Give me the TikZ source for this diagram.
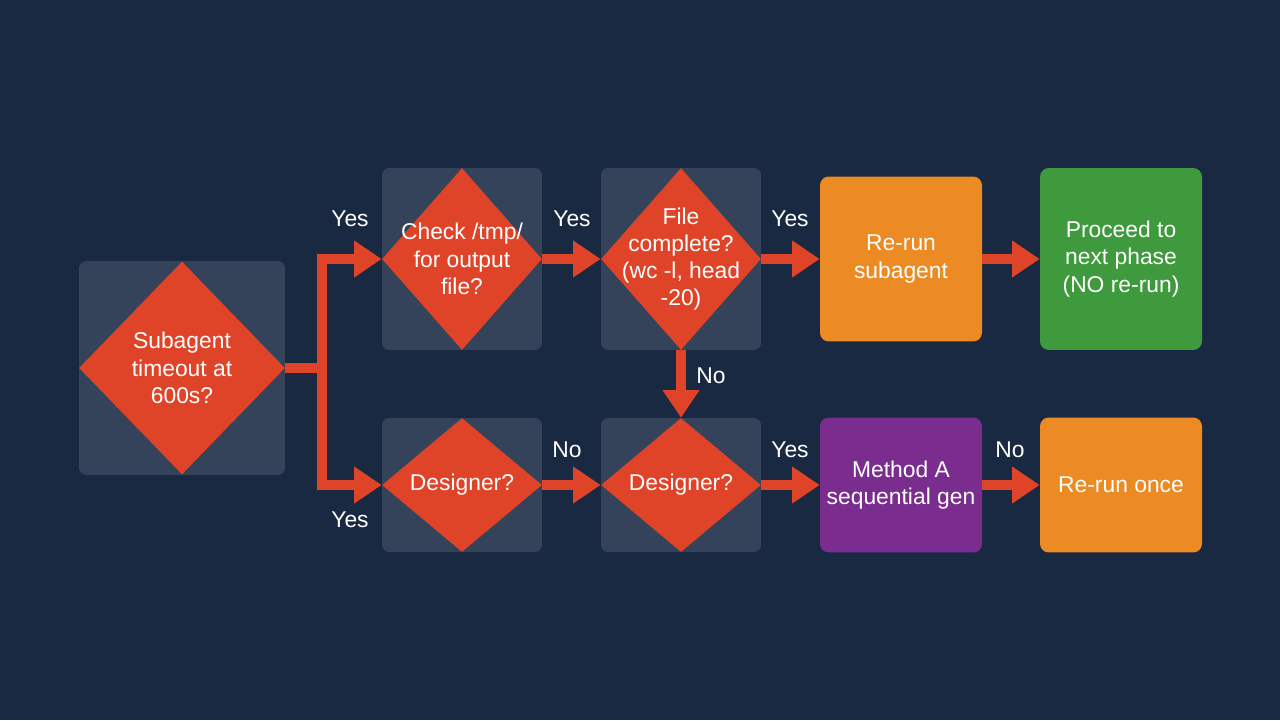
\documentclass[tikz,border=0pt]{standalone}
\usepackage{fontspec}
\setmainfont{Liberation Sans}
\usetikzlibrary{positioning,arrows.meta,shapes.geometric}
\definecolor{bgnavy}{HTML}{1A2942}
\definecolor{panel}{HTML}{34425A}
\definecolor{decred}{HTML}{E04428}
\definecolor{actorange}{HTML}{EC8A24}
\definecolor{actgreen}{HTML}{3E9A3C}
\definecolor{actpurple}{HTML}{7B2C8F}
\tikzset{
    panel/.style={fill=panel,rounded corners=4pt,minimum width=#1,minimum height=3.64cm,inner sep=0pt},
    decision/.style={diamond,fill=decred,inner sep=0pt,aspect=1,minimum width=3.2cm,minimum height=3.64cm},
    action/.style={fill=#1,rounded corners=5pt,minimum width=3.24cm,minimum height=2.7cm,inner sep=0pt,
        text=white,align=center,font=\fontsize{13}{15.5}\selectfont},
    txt/.style={text=white,align=center,font=\fontsize{13}{15.5}\selectfont},
    flow/.style={draw=decred,line width=5.5pt,-{Triangle[length=0.55cm,width=0.7cm]}},
    yesno/.style={text=white,font=\fontsize{13}{15.5}\selectfont},
}
\begin{document}
\begin{tikzpicture}[x=0.02cm,y=-0.02cm]
    \fill[bgnavy] (0,0) rectangle (1280,720);
    \useasboundingbox (0,0) rectangle (1280,720);
    % panels behind the decisions
    \node[panel=4.12cm,minimum height=4.28cm] at (182,368) {};
    \foreach \x/\y/\h in {462/259/3.64cm,681/259/3.64cm,462/485/2.68cm,681/485/2.68cm}
        \node[panel=3.2cm,minimum height=\h] at (\x,\y) {};
    % decisions
    \node[decision,minimum width=4.12cm,minimum height=4.26cm] (start) at (182,368) {};
    \node[txt] at (start) {Subagent\\timeout at\\600s?};
    \node[decision] (check) at (462,259) {};
    \node[txt] at (check) {Check /tmp/\\for output\\file?};
    \node[decision] (complete) at (681,259) {};
    \node[txt] at (complete) {File\\complete?\\(wc -l, head\\-20)};
    \node[decision,minimum height=2.68cm] (designA) at (462,485) {};
    \node[txt] at (designA) {Designer?};
    \node[decision,minimum height=2.68cm] (designB) at (681,485) {};
    \node[txt] at (designB) {Designer?};
    % actions
    \node[action=actorange,minimum height=3.3cm] (rerun) at (901,259) {Re-run\\subagent};
    \node[action=actgreen,minimum height=3.64cm] (proceed) at (1121,259) {Proceed to\\next phase\\(NO re-run)};
    \node[action=actpurple] (method) at (901,485) {Method A\\sequential gen};
    \node[action=actorange] (once) at (1121,485) {Re-run once};
    % connectors
    \coordinate (split) at (322,368);
    \draw[decred,line width=5.5pt] (start.east) -- (split);
    \draw[flow] (split) |- (check.west);
    \draw[flow] (split) |- (designA.west);
    \draw[flow] (check) -- (complete);
    \draw[flow] (complete) -- (rerun);
    \draw[flow] (rerun) -- (proceed);
    \draw[flow] (complete) -- (designB);
    \draw[flow] (designA) -- (designB);
    \draw[flow] (designB) -- (method);
    \draw[flow] (method) -- (once);
    % labels
    \node[yesno] at (350,219) {Yes};
    \node[yesno] at (350,520) {Yes};
    \node[yesno] at (572,219) {Yes};
    \node[yesno] at (790,219) {Yes};
    \node[yesno] at (711,376) {No};
    \node[yesno] at (567,450) {No};
    \node[yesno] at (790,450) {Yes};
    \node[yesno] at (1010,450) {No};
\end{tikzpicture}
\end{document}
